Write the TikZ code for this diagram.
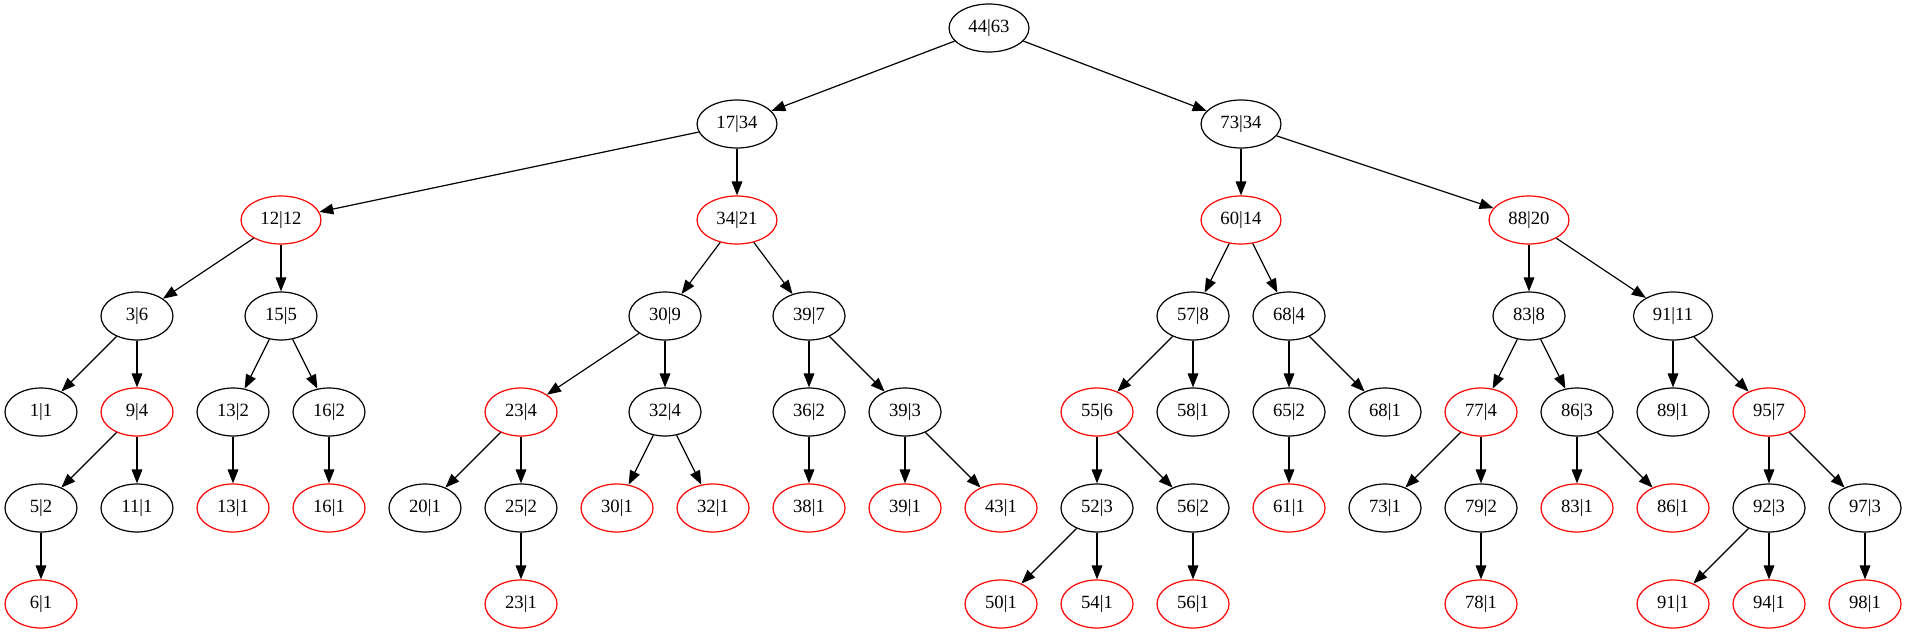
\documentclass[tikz,border=0pt]{standalone}
\usepackage{fontspec}
\setmainfont{Liberation Serif}
\usetikzlibrary{shapes.geometric,arrows.meta}

\begin{document}
\begin{tikzpicture}[x=0.75pt,y=-0.75pt,
    blk/.style={ellipse,draw,line width=0.9pt,minimum width=54pt,minimum height=36pt,
        inner xsep=5.8pt,inner ysep=2pt,font=\fontsize{14}{16}\selectfont},
    rd/.style={blk,draw=red},
    edge/.style={-{Triangle[length=10.5pt,width=8pt]},line width=0.9pt}]
            \useasboundingbox (0,0) rectangle (1907,635);
            % level 0 and 1
            \node[blk] (n44-63) at (989,28) {44|63};
            \node[blk] (n17-34) at (737,124) {17|34};
            \node[blk] (n73-34) at (1241,124) {73|34};
            % level 2
            \node[rd] (n12-12) at (281,220) {12|12};
            \node[rd] (n34-21) at (737,220) {34|21};
            \node[rd] (n60-14) at (1241,220) {60|14};
            \node[rd] (n88-20) at (1529,220) {88|20};
            % level 3
            \node[blk] (n3-6) at (137,316) {3|6};
            \node[blk] (n15-5) at (281,316) {15|5};
            \node[blk] (n30-9) at (665,316) {30|9};
            \node[blk] (n39-7) at (809,316) {39|7};
            \node[blk] (n57-8) at (1193,316) {57|8};
            \node[blk] (n68-4) at (1289,316) {68|4};
            \node[blk] (n83-8) at (1529,316) {83|8};
            \node[blk] (n91-11) at (1673,316) {91|11};
            % level 4
            \node[blk] (n1-1) at (41,412) {1|1};
            \node[rd] (n9-4) at (137,412) {9|4};
            \node[blk] (n13-2) at (233,412) {13|2};
            \node[blk] (n16-2) at (329,412) {16|2};
            \node[rd] (n23-4) at (521,412) {23|4};
            \node[blk] (n32-4) at (665,412) {32|4};
            \node[blk] (n36-2) at (809,412) {36|2};
            \node[blk] (n39-3) at (905,412) {39|3};
            \node[rd] (n55-6) at (1097,412) {55|6};
            \node[blk] (n58-1) at (1193,412) {58|1};
            \node[blk] (n65-2) at (1289,412) {65|2};
            \node[blk] (n68-1) at (1385,412) {68|1};
            \node[rd] (n77-4) at (1481,412) {77|4};
            \node[blk] (n86-3) at (1577,412) {86|3};
            \node[blk] (n89-1) at (1673,412) {89|1};
            \node[rd] (n95-7) at (1769,412) {95|7};
            % level 5
            \node[blk] (n5-2) at (41,508) {5|2};
            \node[blk] (n11-1) at (137,508) {11|1};
            \node[rd] (n13-1) at (233,508) {13|1};
            \node[rd] (n16-1) at (329,508) {16|1};
            \node[blk] (n20-1) at (425,508) {20|1};
            \node[blk] (n25-2) at (521,508) {25|2};
            \node[rd] (n30-1) at (617,508) {30|1};
            \node[rd] (n32-1) at (713,508) {32|1};
            \node[rd] (n38-1) at (809,508) {38|1};
            \node[rd] (n39-1) at (905,508) {39|1};
            \node[rd] (n43-1) at (1001,508) {43|1};
            \node[blk] (n52-3) at (1097,508) {52|3};
            \node[blk] (n56-2) at (1193,508) {56|2};
            \node[rd] (n61-1) at (1289,508) {61|1};
            \node[blk] (n73-1) at (1385,508) {73|1};
            \node[blk] (n79-2) at (1481,508) {79|2};
            \node[rd] (n83-1) at (1577,508) {83|1};
            \node[rd] (n86-1) at (1673,508) {86|1};
            \node[blk] (n92-3) at (1769,508) {92|3};
            \node[blk] (n97-3) at (1865,508) {97|3};
            % level 6
            \node[rd] (n6-1) at (41,604) {6|1};
            \node[rd] (n23-1) at (521,604) {23|1};
            \node[rd] (n50-1) at (1001,604) {50|1};
            \node[rd] (n54-1) at (1097,604) {54|1};
            \node[rd] (n56-1) at (1193,604) {56|1};
            \node[rd] (n78-1) at (1481,604) {78|1};
            \node[rd] (n91-1) at (1673,604) {91|1};
            \node[rd] (n94-1) at (1769,604) {94|1};
            \node[rd] (n98-1) at (1865,604) {98|1};
            % edges, left half
            \draw[edge] (n44-63) -- (n17-34);
            \draw[edge] (n44-63) -- (n73-34);
            \draw[edge] (n17-34) -- (n12-12);
            \draw[edge] (n17-34) -- (n34-21);
            \draw[edge] (n12-12) -- (n3-6);
            \draw[edge] (n12-12) -- (n15-5);
            \draw[edge] (n3-6) -- (n1-1);
            \draw[edge] (n3-6) -- (n9-4);
            \draw[edge] (n9-4) -- (n5-2);
            \draw[edge] (n9-4) -- (n11-1);
            \draw[edge] (n5-2) -- (n6-1);
            \draw[edge] (n15-5) -- (n13-2);
            \draw[edge] (n15-5) -- (n16-2);
            \draw[edge] (n13-2) -- (n13-1);
            \draw[edge] (n16-2) -- (n16-1);
            \draw[edge] (n34-21) -- (n30-9);
            \draw[edge] (n34-21) -- (n39-7);
            \draw[edge] (n30-9) -- (n23-4);
            \draw[edge] (n30-9) -- (n32-4);
            \draw[edge] (n23-4) -- (n20-1);
            \draw[edge] (n23-4) -- (n25-2);
            \draw[edge] (n25-2) -- (n23-1);
            \draw[edge] (n32-4) -- (n30-1);
            \draw[edge] (n32-4) -- (n32-1);
            \draw[edge] (n39-7) -- (n36-2);
            \draw[edge] (n39-7) -- (n39-3);
            \draw[edge] (n36-2) -- (n38-1);
            \draw[edge] (n39-3) -- (n39-1);
            \draw[edge] (n39-3) -- (n43-1);
            % edges, right half
            \draw[edge] (n73-34) -- (n60-14);
            \draw[edge] (n73-34) -- (n88-20);
            \draw[edge] (n60-14) -- (n57-8);
            \draw[edge] (n60-14) -- (n68-4);
            \draw[edge] (n57-8) -- (n55-6);
            \draw[edge] (n57-8) -- (n58-1);
            \draw[edge] (n55-6) -- (n52-3);
            \draw[edge] (n55-6) -- (n56-2);
            \draw[edge] (n52-3) -- (n50-1);
            \draw[edge] (n52-3) -- (n54-1);
            \draw[edge] (n56-2) -- (n56-1);
            \draw[edge] (n68-4) -- (n65-2);
            \draw[edge] (n68-4) -- (n68-1);
            \draw[edge] (n65-2) -- (n61-1);
            \draw[edge] (n88-20) -- (n83-8);
            \draw[edge] (n88-20) -- (n91-11);
            \draw[edge] (n83-8) -- (n77-4);
            \draw[edge] (n83-8) -- (n86-3);
            \draw[edge] (n77-4) -- (n73-1);
            \draw[edge] (n77-4) -- (n79-2);
            \draw[edge] (n79-2) -- (n78-1);
            \draw[edge] (n86-3) -- (n83-1);
            \draw[edge] (n86-3) -- (n86-1);
            \draw[edge] (n91-11) -- (n89-1);
            \draw[edge] (n91-11) -- (n95-7);
            \draw[edge] (n95-7) -- (n92-3);
            \draw[edge] (n95-7) -- (n97-3);
            \draw[edge] (n92-3) -- (n91-1);
            \draw[edge] (n92-3) -- (n94-1);
            \draw[edge] (n97-3) -- (n98-1);
        \end{tikzpicture}
\end{document}
